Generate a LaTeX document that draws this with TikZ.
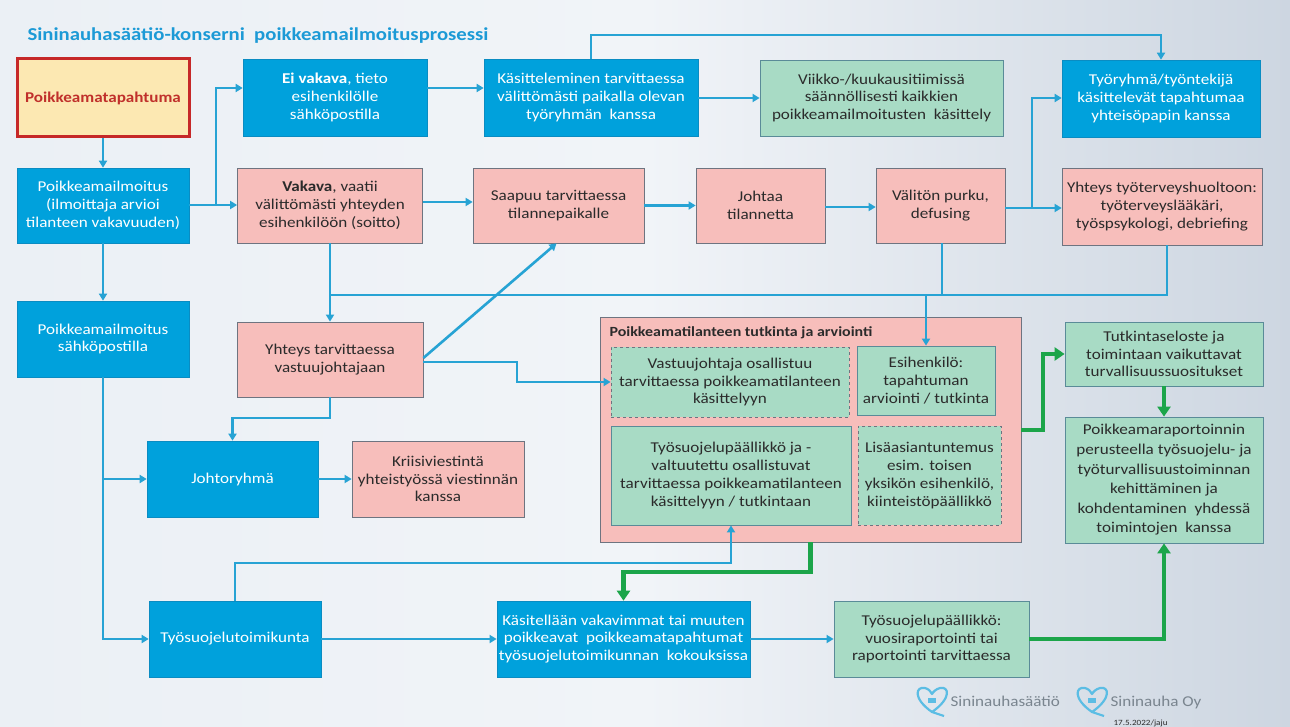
\documentclass[tikz,border=0pt]{standalone}
\usepackage{fontspec}
\setmainfont{Carlito}[FakeStretch=1.14]
\usetikzlibrary{arrows.meta,shadings}
\definecolor{boxblue}{HTML}{00A1DC}
\definecolor{boxblueD}{HTML}{0A8CC2}
\definecolor{lineblue}{HTML}{27A3D4}
\definecolor{boxpink}{HTML}{F7BEBB}
\definecolor{pinkD}{HTML}{6E7480}
\definecolor{boxgreen}{HTML}{A8DBC5}
\definecolor{greenD}{HTML}{5A8B98}
\definecolor{arrgreen}{HTML}{1CA54A}
\definecolor{txt}{HTML}{2B2B2B}
\definecolor{titleblue}{HTML}{1C9AD6}
\definecolor{redtxt}{HTML}{C0302B}
\definecolor{redD}{HTML}{C62828}
\definecolor{yel}{HTML}{FCE8B2}
\definecolor{logogray}{HTML}{7A858F}
\definecolor{logoblue}{HTML}{5BBDE4}
\definecolor{bgl}{HTML}{EBF0F5}
\definecolor{bgm}{HTML}{F1F4F8}
\definecolor{bgr}{HTML}{CDD6E1}
\begin{document}
\begin{tikzpicture}[x=1pt,y=-1pt,
  base/.style={rectangle, inner sep=2pt, align=center, font=\fontsize{15}{17.8}\selectfont},
  bluebox/.style={base, fill=boxblue, draw=boxblueD, line width=0.6pt, text=white},
  pinkbox/.style={base, fill=boxpink, draw=pinkD, line width=0.7pt, text=txt},
  greenbox/.style={base, fill=boxgreen, draw=greenD, line width=0.8pt, text=txt},
  dashbox/.style={greenbox, dashed, draw=pinkD},
  sz/.style 2 args={minimum width=#1, minimum height=#2},
  line/.style={draw=lineblue, line width=2.6pt},
  conn/.style={line, -{Triangle[length=7pt,width=8pt]}},
  gconn/.style={draw=arrgreen, line width=4.5pt, -{Triangle[length=10pt,width=13pt]}}
]
\useasboundingbox (0,0) rectangle (1290,727);
\shade[left color=bgl, right color=bgr, middle color=bgm] (0,0) rectangle (1290,727);
\node[anchor=base west, text=titleblue, font=\fontsize{18.2}{21}\selectfont\bfseries] (title) at (24,41) {Sininauhasäätiö-konserni\ \ poikkeamailmoitusprosessi};

% row 1
\node[base, fill=yel, draw=redD, line width=3pt, text=redtxt, font=\fontsize{15}{17.8}\selectfont\bfseries, sz={172pt}{78pt}] (pt) at (103,98) {Poikkeamatapahtuma};
\node[bluebox, sz={184pt}{77pt}] (ev) at (335,97.5) {\textbf{Ei vakava}, tieto\\esihenkilölle\\sähköpostilla};
\node[bluebox, sz={214pt}{77pt}] (kt) at (591,97.5) {Käsitteleminen tarvittaessa\\välittömästi paikalla olevan\\työryhmän\ \ kanssa};
\node[greenbox, sz={243pt}{76pt}] (vk) at (881.5,98) {Viikko-/kuukausitiimissä\\säännöllisesti kaikkien\\poikkeamailmoitusten\ \ käsittely};
\node[bluebox, sz={198pt}{77pt}] (tr) at (1161,98.5) {Työryhmä/työntekijä\\käsittelevät tapahtumaa\\yhteisöpapin kanssa};

% row 2
\node[bluebox, sz={172pt}{75pt}] (pi) at (103,205.5) {Poikkeamailmoitus\\(ilmoittaja arvioi\\tilanteen vakavuuden)};
\node[pinkbox, sz={185pt}{75pt}] (va) at (330,205.5) {\textbf{Vakava}, vaatii\\välittömästi yhteyden\\esihenkilöön (soitto)};
\node[pinkbox, sz={171pt}{75pt}] (sa) at (558.5,205.5) {Saapuu tarvittaessa\\tilannepaikalle};
\node[pinkbox, sz={129pt}{75pt}] (jo) at (760.5,205.5) {Johtaa\\tilannetta};
\node[pinkbox, sz={129pt}{75pt}] (vp) at (940.5,205.5) {Välitön purku,\\defusing};
\node[pinkbox, sz={200pt}{77pt}] (yt) at (1162,206.5) {Yhteys työterveyshuoltoon:\\työterveyslääkäri,\\työspsykologi, debriefing};

% row 3
\node[bluebox, sz={172pt}{76pt}] (ps) at (103,339) {Poikkeamailmoitus\\sähköpostilla};
\node[pinkbox, sz={186pt}{75pt}] (yv) at (330,359.5) {Yhteys tarvittaessa\\vastuujohtajaan};
\node[bluebox, sz={171pt}{76pt}] (jr) at (232.5,479) {Johtoryhmä};
\node[pinkbox, sz={172pt}{76pt}] (kv) at (438,479) {Kriisiviestintä\\yhteistyössä viestinnän\\kanssa};

% investigation group
\node[rectangle, fill=boxpink, draw=pinkD, line width=0.8pt, sz={421pt}{225pt}] (tk) at (810.5,429.5) {};
\node[anchor=west, text=txt, font=\fontsize{14}{17}\selectfont\bfseries] (tkt) at (606,333) {Poikkeamatilanteen tutkinta ja arviointi};
\node[dashbox, sz={238pt}{70pt}] (vj) at (730,382) {Vastuujohtaja osallistuu\\tarvittaessa poikkeamatilanteen\\käsittelyyn};
\node[greenbox, sz={138pt}{69pt}] (eh) at (926,380.5) {Esihenkilö:\\tapahtuman\\arviointi / tutkinta};
\node[greenbox, sz={240pt}{99pt}] (ts) at (731,475.5) {Työsuojelupäällikkö ja -\\valtuutettu osallistuvat\\tarvittaessa poikkeamatilanteen\\käsittelyyn / tutkintaan};
\node[dashbox, sz={143pt}{99pt}] (la) at (929.5,475.5) {Lisäasiantuntemus\\esim. toisen\\yksikön esihenkilö,\\kiinteistöpäällikkö};

\node[greenbox, sz={198pt}{64pt}] (tse) at (1164,354) {Tutkintaseloste ja\\toimintaan vaikuttavat\\turvallisuussuositukset};
\node[greenbox, sz={198pt}{126pt}, font=\fontsize{15}{19.6}\selectfont] (pr) at (1164,480) {Poikkeamaraportoinnin\\perusteella työsuojelu- ja\\työturvallisuustoiminnan\\kehittäminen ja\\kohdentaminen\ \ yhdessä\\toimintojen\ \ kanssa};

% bottom row
\node[bluebox, sz={172pt}{76pt}] (tt) at (235,639) {Työsuojelutoimikunta};
\node[bluebox, sz={251pt}{76pt}] (kae) at (623.5,639) {Käsitellään vakavimmat tai muuten\\poikkeavat\ \ poikkeamatapahtumat\\työsuojelutoimikunnan\ \ kokouksissa};
\node[greenbox, sz={195pt}{76pt}] (tp) at (931.5,639) {Työsuojelupäällikkö:\\vuosiraportointi tai\\raportointi tarvittaessa};

% connectors
\coordinate (j1) at (216,205);
\coordinate (j2) at (1032,208);
\coordinate (bus1) at (330,295);
\coordinate (bus2) at (1167,295);
\draw[conn] (pt) -- (pi);
\draw[conn] (pi.east |- j1) -- (va.west |- j1);
\draw[conn] (j1) |- (ev.west |- 0,88);
\draw[conn] (ev.east |- 0,88) -- (kt.west |- 0,88);
\draw[conn] (kt.east |- 0,98) -- (vk.west |- 0,98);
\draw[conn] (kt.north) -- (kt.north |- 0,35) -| (tr.north);
\draw[conn] (va.east |- 0,202) -- (sa.west |- 0,202);
\draw[conn] (sa) -- (jo);
\draw[conn] (jo.east |- 0,207) -- (vp.west |- 0,207);
\draw[conn] (vp.east |- j2) -- (yt.west |- j2);
\draw[conn] (j2) |- (tr.west |- 0,98);
\draw[line] (vp.south -| 942,0) -- (942,295);
\draw[line] (yt.south -| bus2) -- (bus2) -- (bus1);
\draw[conn] (va.south) -- (yv.north);
\draw[conn] (eh.north |- bus2) -- (eh.north);
\draw[conn] (yv.east |- 0,358) -- ([xshift=-2pt]sa.south);
\draw[conn] (yv.east |- 0,362) -- (517,362) |- (vj.west);
\draw[conn] (yv.south) -- (yv.south |- 0,418) -| (jr.north);
\draw[conn] (pi) -- (ps);
\draw[conn] (ps.south) |- (tt.west);
\draw[conn] (ps.south |- jr.west) -- (jr.west);
\draw[conn] (jr) -- (kv);
\draw[conn] (tt.north) -- (tt.north |- 0,563) -| (ts.south);
\draw[conn] (tt) -- (kae);
\draw[conn] (kae) -- (tp);
\draw[gconn] (tk.south) -- (tk.south |- 0,572) -| (kae.north);
\draw[gconn] (tp.east) -| (pr.south);
\draw[gconn] (tk.east |- 0,430) -- (1043,430) |- (tse.west);
\draw[gconn] (tse) -- (pr);

% logos
\draw[logoblue, line width=2.2pt, line join=round] (932,712) .. controls (912,698) and (916,686) .. (925,688) .. controls (929,689) and (931,692) .. (932,694) .. controls (933,692) and (936,689) .. (940,688) .. controls (949,686) and (952,698) .. (932,712) -- (944,716);
\fill[logoblue] (928,703) rectangle (936,698);
\node[anchor=base west, text=logogray, font=\fontsize{15}{18}\selectfont] (l1) at (947,706) {Sininauhasäätiö};
\draw[logoblue, line width=2.2pt, line join=round] (1092,712) .. controls (1072,698) and (1076,686) .. (1085,688) .. controls (1089,689) and (1091,692) .. (1092,694) .. controls (1093,692) and (1096,689) .. (1100,688) .. controls (1109,686) and (1112,698) .. (1092,712) -- (1104,716);
\fill[logoblue] (1088,703) rectangle (1096,698);
\node[anchor=base west, text=logogray, font=\fontsize{15}{18}\selectfont] (l2) at (1107,706) {Sininauha Oy};
\node[anchor=base west, text=txt, font=\fontsize{8}{9}\selectfont] (date) at (1110,725) {17.5.2022/jaju};
\end{tikzpicture}
\end{document}
